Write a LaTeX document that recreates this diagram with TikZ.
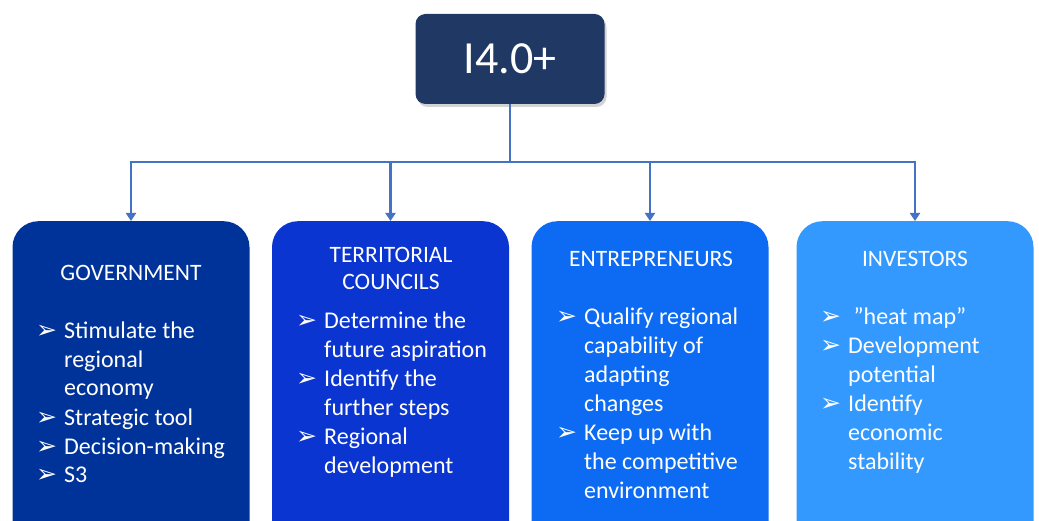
\documentclass[tikz,border=0pt]{standalone}
\usepackage{fontspec}
\setmainfont{Carlito}
\newfontfamily\dingfont{DejaVu Sans}
\usetikzlibrary{arrows.meta, shadows}

\definecolor{navy}{HTML}{203864}
\definecolor{linkblue}{HTML}{4472C4}
\definecolor{govblue}{HTML}{003399}
\definecolor{terblue}{HTML}{0A35D0}
\definecolor{entblue}{HTML}{0C6BF2}
\definecolor{invblue}{HTML}{3399FF}

\tikzset{
  group/.style={rounded corners=26pt, minimum width=237pt, minimum height=330pt,
    anchor=north, inner sep=0pt},
  head/.style={text=white, anchor=base, font=\fontsize{23.5}{27}\selectfont, align=center},
  list/.style={text=white, anchor=base west, inner sep=0pt, font=\fontsize{24}{29}\selectfont},
  link/.style={draw=linkblue, line width=2.4pt},
}
\newcommand{\arr}{{\dingfont\fontsize{25}{29}\selectfont ➢}}

\begin{document}
\begin{tikzpicture}[x=1pt, y=-1pt]
\useasboundingbox (0,0) rectangle (1039,521);
\clip (0,0) rectangle (1039,521);

%Top of the tree
\node[fill=navy, rounded corners=10pt, minimum width=189pt, minimum height=90pt,
  drop shadow={opacity=0.35, shadow xshift=2pt, shadow yshift=-3pt},
  text=white, font=\fontsize{46}{50}\selectfont] (top) at (510,59) {I4.0+};

%The four groups
\node[group, fill=govblue] (gov) at (131,221) {};
\node[group, fill=terblue] (ter) at (390.5,221) {};
\node[group, fill=entblue] (ent) at (650,221) {};
\node[group, fill=invblue] (inv) at (915,221) {};

%Connectors
\coordinate (split) at (510,162);
\draw[link] (top.south) -- (split);
\foreach \g in {gov, ter, ent, inv}
  \draw[link, -{Triangle[width=10pt,length=8pt]}] (split) -| (\g.north);

%Government
\node[head] (govhead) at (131,281) {GOVERNMENT};
\node[list] (govlist) at (36,338) {\begin{tabular}[t]{@{}p{28pt}@{}l@{}}
\arr & Stimulate the\\
     & regional\\
     & economy\\
\arr & Strategic tool\\
\arr & Decision-making\\
\arr & S3
\end{tabular}};

%Territorial councils
\node[head] (terhead) at (391,290) {TERRITORIAL\\COUNCILS};
\node[list] (terlist) at (296,329) {\begin{tabular}[t]{@{}p{28pt}@{}l@{}}
\arr & Determine the\\
     & future aspiration\\
\arr & Identify the\\
     & further steps\\
\arr & Regional\\
     & development
\end{tabular}};

%Entrepreneurs
\node[head] (enthead) at (651,267) {ENTREPRENEURS};
\node[list] (entlist) at (556,325) {\begin{tabular}[t]{@{}p{28pt}@{}l@{}}
\arr & Qualify regional\\
     & capability of\\
     & adapting\\
     & changes\\
\arr & Keep up with\\
     & the competitive\\
     & environment
\end{tabular}};

%Investors
\node[head] (invhead) at (915,267) {INVESTORS};
\node[list] (invlist) at (820,325) {\begin{tabular}[t]{@{}p{28pt}@{}l@{}}
\arr & \ ”heat map”\\
\arr & Development\\
     & potential\\
\arr & Identify\\
     & economic\\
     & stability
\end{tabular}};

\end{tikzpicture}
\end{document}
